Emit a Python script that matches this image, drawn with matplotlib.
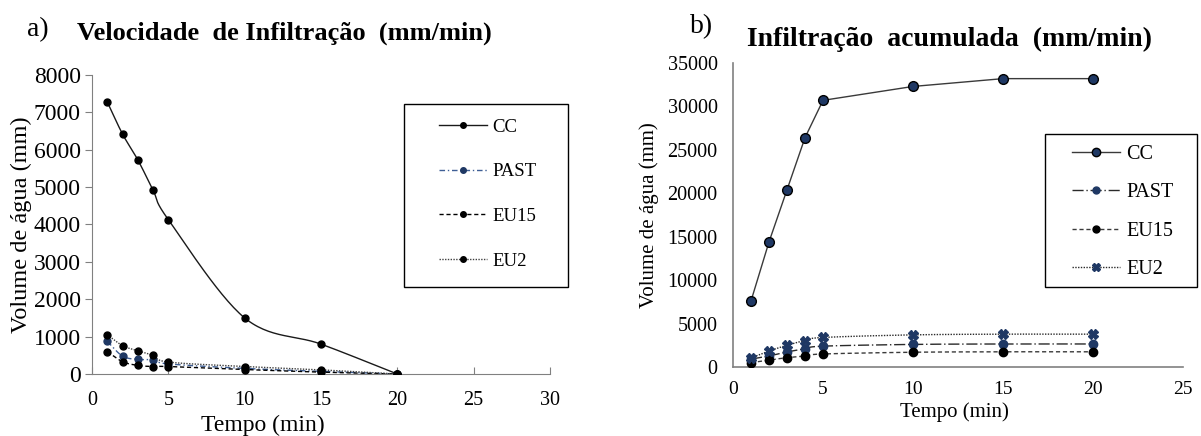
import numpy as np
import matplotlib
matplotlib.use("Agg")
import matplotlib.pyplot as plt
from matplotlib.patches import Rectangle

plt.rcParams['font.family'] = ['Liberation Serif', 'DejaVu Serif']

# ---- data ----
tempo = [1, 2, 3, 4, 5, 10, 15, 20]
series_names = ["CC", "PAST", "EU15", "EU2"]

vel_cc = [7280, 6420, 5730, 4920, 4130, 1500, 800, 0]
vel_past = [870, 480, 390, 380, 270, 150, 70, 0]
vel_eu15 = [600, 330, 230, 200, 200, 120, 50, 0]
vel_eu2 = [1050, 760, 620, 500, 320, 200, 110, 0]

acc_cc = [7600, 14400, 20400, 26400, 30700, 32300, 33200, 33200]
acc_past = [900, 1270, 1730, 2100, 2400, 2600, 2650, 2650]
acc_eu15 = [500, 800, 1070, 1270, 1500, 1700, 1750, 1750]
acc_eu2 = [1050, 1840, 2500, 3050, 3400, 3700, 3780, 3780]

left_yticks = [0, 1000, 2000, 3000, 4000, 5000, 6000, 7000, 8000]
left_xticks = [0, 5, 10, 15, 20, 25, 30]
right_yticks = [0, 5000, 10000, 15000, 20000, 25000, 30000, 35000]
right_xticks = [0, 5, 10, 15, 20, 25]


def smooth(x, y, n=30):
    x = np.asarray(x, float)
    y = np.asarray(y, float)
    px = np.concatenate([[2 * x[0] - x[1]], x, [2 * x[-1] - x[-2]]])
    py = np.concatenate([[2 * y[0] - y[1]], y, [2 * y[-1] - y[-2]]])
    xs, ys = [], []
    t = np.linspace(0, 1, n)
    for i in range(1, len(px) - 2):
        p0x, p1x, p2x, p3x = px[i - 1:i + 3]
        p0y, p1y, p2y, p3y = py[i - 1:i + 3]
        c1x = p1x + (p2x - p0x) / 6
        c1y = p1y + (p2y - p0y) / 6
        c2x = p2x - (p3x - p1x) / 6
        c2y = p2y - (p3y - p1y) / 6
        bx = (1 - t) ** 3 * p1x + 3 * (1 - t) ** 2 * t * c1x + 3 * (1 - t) * t ** 2 * c2x + t ** 3 * p2x
        by = (1 - t) ** 3 * p1y + 3 * (1 - t) ** 2 * t * c1y + 3 * (1 - t) * t ** 2 * c2y + t ** 3 * p2y
        xs.extend(bx)
        ys.extend(by)
    return np.array(xs), np.array(ys)


W, H = 1201, 436
fig = plt.figure(figsize=(W / 100, H / 100), dpi=100)
ax1 = fig.add_axes([92 / W, 1 - 374 / H, 458 / W, 299 / H])
ax2 = fig.add_axes([733 / W, 1 - 367 / H, 450 / W, 304 / H])

spine_col = '#808080'

# ---- left chart ----
left_styles = [
    dict(color='#1a1a1a', ls='-', lw=1.0),
    dict(color='#3f5f95', ls=(0, (4, 2, 1, 2)), lw=1.0),
    dict(color='#000000', ls=(0, (3, 2)), lw=1.0),
    dict(color='#404040', ls=(0, (1, 1)), lw=1.0),
]
left_mcol = ['#000000', '#1f3864', '#000000', '#000000']
h1 = []
for name, vals, st, mc in zip(series_names, [vel_cc, vel_past, vel_eu15, vel_eu2], left_styles, left_mcol):
    sx, sy = smooth(tempo, vals)
    ax1.plot(sx, sy, color=st['color'], ls=st['ls'], lw=st['lw'], zorder=2)
    ax1.plot(tempo, vals, ls='none', marker='o', ms=5, color=mc, zorder=3)
    h, = ax1.plot([], [], color=st['color'], ls=st['ls'], lw=st['lw'], marker='o', ms=4,
                  mfc=mc, mec=mc, label=name)
    h1.append(h)

ax1.set_xlim(0, 30)
ax1.set_ylim(0, 8000)
ax1.set_xticks(left_xticks)
ax1.set_yticks(left_yticks)
for s in ['top', 'right']:
    ax1.spines[s].set_visible(False)
for s in ['left', 'bottom']:
    ax1.spines[s].set_color(spine_col)
ax1.tick_params(axis='x', direction='in', length=5, color=spine_col, labelsize=14.5, pad=12)
ax1.tick_params(axis='y', direction='out', length=5, color=spine_col, labelsize=17, pad=3)
ax1.set_xlabel('Tempo (min)', fontsize=17, labelpad=4, x=0.373)
ax1.set_ylabel('Volume de água (mm)', fontsize=17.5, labelpad=1)

ax1.add_patch(Rectangle(((404 - 92) / 458, (374 - 287) / 299), 164 / 458, 183 / 299,
                        transform=ax1.transAxes, fill=True, facecolor='white',
                        edgecolor='#000000', lw=1.0, clip_on=False, zorder=4))
leg1 = ax1.legend(handles=h1, loc='upper left',
                  bbox_to_anchor=((439 - 92) / 458, (374 - 118.5) / 299), fontsize=13.5,
                  labelspacing=1.47, handlelength=2.56, handletextpad=0.27,
                  borderpad=0, borderaxespad=0, frameon=False)
leg1.set_zorder(5)

# ---- right chart ----
right_styles = [
    dict(color='#3a3a3a', ls='-', lw=1.0, marker='o', mfc='#1f3864', mec='#000000', ms=7),
    dict(color='#2a2a2a', ls=(0, (8, 2, 1, 2)), lw=1.0, marker='o', mfc='#1f3864', mec='#1f3864', ms=6),
    dict(color='#3a3a3a', ls=(0, (3, 2)), lw=1.0, marker='o', mfc='#000000', mec='#000000', ms=6),
    dict(color='#2a2a2a', ls=(0, (1, 1)), lw=1.0, marker='X', mfc='#1f3864', mec='#1f3864', ms=7),
]
h2 = []
for i, (name, vals, st) in enumerate(zip(series_names, [acc_cc, acc_past, acc_eu15, acc_eu2], right_styles)):
    if i == 0:
        sx, sy = tempo, vals
    else:
        sx, sy = smooth(tempo, vals)
    ax2.plot(sx, sy, color=st['color'], ls=st['ls'], lw=st['lw'], zorder=2)
    ax2.plot(tempo, vals, ls='none', marker=st['marker'], ms=st['ms'], mfc=st['mfc'],
             mec=st['mec'], mew=1.0, zorder=3)
    h, = ax2.plot([], [], color=st['color'], ls=st['ls'], lw=st['lw'], marker=st['marker'],
                  ms=st['ms'] - 1, mfc=st['mfc'], mec=st['mec'], label=name)
    h2.append(h)

ax2.set_xlim(0, 25)
ax2.set_ylim(0, 35000)
ax2.set_xticks(right_xticks)
ax2.set_yticks(right_yticks)
for s in ['top', 'right']:
    ax2.spines[s].set_visible(False)
for s in ['left', 'bottom']:
    ax2.spines[s].set_color(spine_col)
    ax2.spines[s].set_linewidth(1.2)
ax2.tick_params(axis='both', length=0)
ax2.tick_params(axis='y', pad=11, labelsize=14.5)
ax2.tick_params(axis='x', pad=10, labelsize=14)
ax2.set_xlabel('Tempo (min)', fontsize=15, labelpad=3, x=0.493)
ax2.set_ylabel('Volume de água (mm)', fontsize=15, labelpad=6)

ax2.add_patch(Rectangle(((1045 - 733) / 450, (367 - 287) / 304), 152 / 450, 153 / 304,
                        transform=ax2.transAxes, fill=True, facecolor='white',
                        edgecolor='#000000', lw=1.0, clip_on=False, zorder=4))
leg2 = ax2.legend(handles=h2, loc='upper left',
                  bbox_to_anchor=((1072 - 733) / 450, (367 - 145) / 304), fontsize=14.5,
                  labelspacing=0.95, handlelength=2.4, handletextpad=0.3,
                  borderpad=0, borderaxespad=0, frameon=False)
leg2.set_zorder(5)

# ---- titles ----
fig.text(27 / W, 1 - 30 / H, 'a)', fontsize=20, va='center', ha='left')
fig.text(77 / W, 1 - 33 / H, 'Velocidade  de Infiltração  (mm/min)', fontsize=19,
         fontweight='bold', va='center', ha='left')
fig.text(690 / W, 1 - 27 / H, 'b)', fontsize=20, va='center', ha='left')
fig.text(747 / W, 1 - 39 / H, 'Infiltração  acumulada  (mm/min)', fontsize=20,
         fontweight='bold', va='center', ha='left')

fig.savefig('out.png', dpi=100)
